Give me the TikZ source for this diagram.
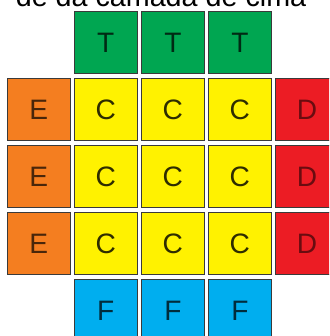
\documentclass[tikz,border=0pt]{standalone}
\usepackage{fontspec}
\setmainfont{Liberation Sans}
\usepackage{xcolor}
\usetikzlibrary{positioning}
\definecolor{CUBgreen}{HTML}{00A651}
\definecolor{CUBorange}{HTML}{F47E20}
\definecolor{CUByellow}{HTML}{FFF200}
\definecolor{CUBred}{HTML}{EC1C24}
\definecolor{CUBblue}{HTML}{00AEEF}
\definecolor{CUBedge}{HTML}{3A3A3A}
\tikzset{
  facebox/.style={draw=CUBedge, line width=0.6pt, minimum size=1.87cm, inner sep=0pt, font=\fontsize{24}{28}\selectfont},
  tbox/.style={facebox, fill=CUBgreen, text=CUBgreen!25!black},
  ebox/.style={facebox, fill=CUBorange, text=CUBorange!30!black},
  cbox/.style={facebox, fill=CUByellow, text=CUByellow!18!black},
  dbox/.style={facebox, fill=CUBred, text=CUBred!45!black},
  fbox/.style={facebox, fill=CUBblue, text=CUBblue!25!black},
  headtext/.style={font=\fontsize{24.5}{28}\selectfont, text=black, inner sep=0pt}
}
\begin{document}
\begin{tikzpicture}[node distance=0.12cm]
  \useasboundingbox (0,0) rectangle (9.87,-10.08);
  \clip (0,0) rectangle (9.87,-10.08);
  % cut-off caption above the face
  \node[headtext, anchor=base] (head) at (4.83,-0.21) {de da camada de cima};
  % centre block
  \node[cbox] (c11) at (3.174,-3.285) {C};
  \node[cbox, right=of c11] (c12) {C};
  \node[cbox, right=of c12] (c13) {C};
  \node[cbox, below=of c11] (c21) {C};
  \node[cbox, right=of c21] (c22) {C};
  \node[cbox, right=of c22] (c23) {C};
  \node[cbox, below=of c21] (c31) {C};
  \node[cbox, right=of c31] (c32) {C};
  \node[cbox, right=of c32] (c33) {C};
  % top row
  \node[tbox, above=of c11] (t1) {T};
  \node[tbox, above=of c12] (t2) {T};
  \node[tbox, above=of c13] (t3) {T};
  % left column
  \node[ebox, left=of c11] (e1) {E};
  \node[ebox, left=of c21] (e2) {E};
  \node[ebox, left=of c31] (e3) {E};
  % right column
  \node[dbox, right=of c13] (d1) {D};
  \node[dbox, right=of c23] (d2) {D};
  \node[dbox, right=of c33] (d3) {D};
  % bottom row
  \node[fbox, below=of c31] (f1) {F};
  \node[fbox, below=of c32] (f2) {F};
  \node[fbox, below=of c33] (f3) {F};
\end{tikzpicture}
\end{document}
